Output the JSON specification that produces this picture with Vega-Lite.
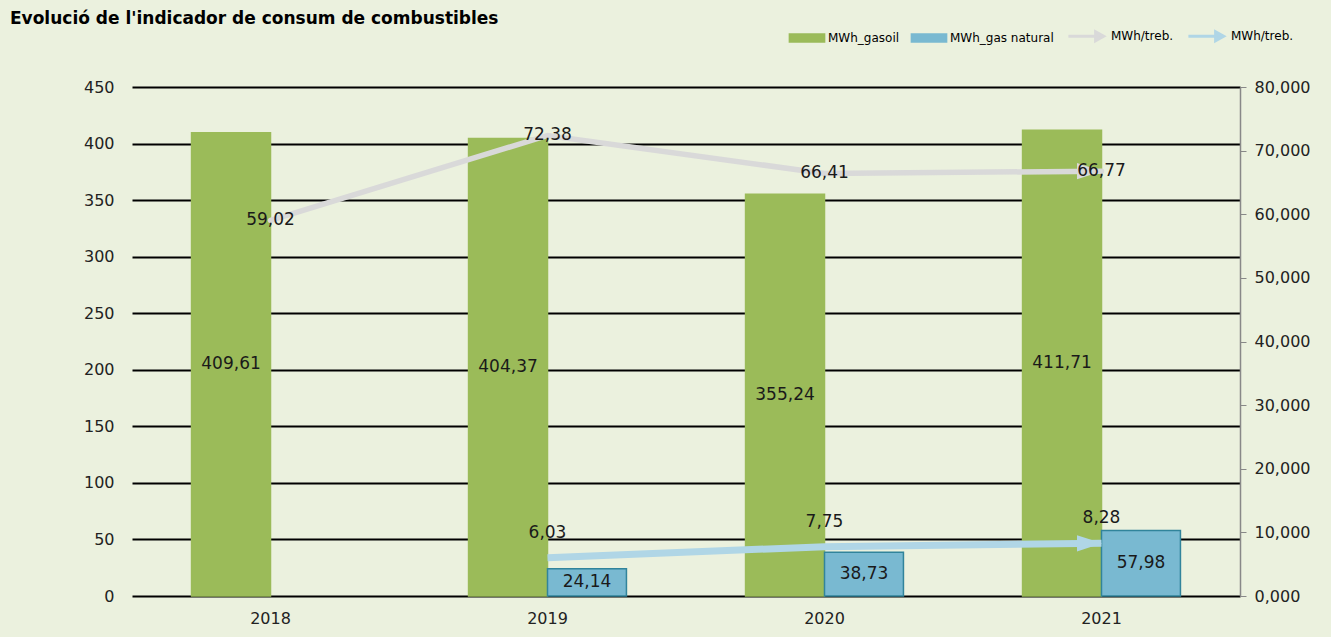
{
  "$schema": "https://vega.github.io/schema/vega-lite/v6.json",
  "width": 1108,
  "height": 509,
  "autosize": {"type": "none"},
  "padding": {"left": 132, "top": 87, "right": 91, "bottom": 41},
  "background": "#EBF1DE",
  "title": {
    "text": "Evolució de l'indicador de consum de combustibles",
    "anchor": "start",
    "frame": "group",
    "font": "DejaVu Sans",
    "fontSize": 17,
    "fontWeight": "bold",
    "color": "#000000",
    "dx": -122,
    "offset": 2
  },
  "config": {
    "view": {"stroke": null},
    "locale": {"number": {"decimal": ",", "thousands": ".", "grouping": [3], "currency": ["", " €"]}},
    "font": "DejaVu Sans"
  },
  "datasets": {
    "bars": [
      {"year": "2018", "series": "MWh_gasoil", "value": 409.61},
      {"year": "2019", "series": "MWh_gasoil", "value": 404.37},
      {"year": "2020", "series": "MWh_gasoil", "value": 355.24},
      {"year": "2021", "series": "MWh_gasoil", "value": 411.71},
      {"year": "2019", "series": "MWh_gas natural", "value": 24.14},
      {"year": "2020", "series": "MWh_gas natural", "value": 38.73},
      {"year": "2021", "series": "MWh_gas natural", "value": 57.98}
    ],
    "lines": [
      {"year": "2018", "series": "MWh/treb.", "value": 59.02},
      {"year": "2019", "series": "MWh/treb.", "value": 72.38},
      {"year": "2020", "series": "MWh/treb.", "value": 66.41},
      {"year": "2021", "series": "MWh/treb.", "value": 66.77},
      {"year": "2019", "series": "MWh/treb. ", "value": 6.03},
      {"year": "2020", "series": "MWh/treb. ", "value": 7.75},
      {"year": "2021", "series": "MWh/treb. ", "value": 8.28}
    ],
    "arrows": [
      {"year": "2021", "series": "MWh/treb.", "value": 66.77},
      {"year": "2021", "series": "MWh/treb. ", "value": 8.28}
    ]
  },
  "layer": [
    {
      "data": {"name": "bars"},
      "mark": {"type": "bar", "strokeWidth": 1.5},
      "encoding": {
        "x": {
          "field": "year",
          "type": "ordinal",
          "scale": {"paddingInner": 0.43, "paddingOuter": 0.215},
          "axis": {
            "title": null,
            "domain": false,
            "ticks": false,
            "labelAngle": 0,
            "labelFontSize": 16,
            "labelColor": "#222222",
            "labelPadding": 14,
            "labelFont": "DejaVu Sans"
          }
        },
        "xOffset": {"field": "series", "type": "nominal", "scale": {"domain": ["MWh_gasoil", "MWh_gas natural"], "paddingInner": 0}},
        "y": {
          "field": "value",
          "type": "quantitative",
          "scale": {"domain": [0, 450], "nice": false},
          "axis": {
            "title": null,
            "orient": "left",
            "values": [0, 50, 100, 150, 200, 250, 300, 350, 400, 450],
            "format": "d",
            "domain": false,
            "ticks": false,
            "grid": true,
            "gridColor": "#000000",
            "gridWidth": 2,
            "gridOpacity": 1,
            "labelFontSize": 16,
            "labelColor": "#222222",
            "labelPadding": 18,
            "labelFont": "DejaVu Sans"
          }
        },
        "color": {
          "field": "series",
          "type": "nominal",
          "scale": {
            "domain": ["MWh_gasoil", "MWh_gas natural", "MWh/treb.", "MWh/treb. "],
            "range": ["#9BBB59", "#79B9D1", "#D9D9D9", "#B0D6E6"]
          },
          "legend": {
            "orient": "none",
            "legendX": 669,
            "legendY": -57,
            "direction": "horizontal",
            "title": null,
            "labelFont": "DejaVu Sans",
            "labelFontSize": 12,
            "labelColor": "#000000",
            "columnPadding": 8,
            "symbolSize": 256,
            "labelOffset": 15,
            "encode": {
              "symbols": {
                "update": {
                  "shape": {"signal": "datum.index < 2 ? 'M-2.2,-0.5H2.2V0.5H-2.2Z' : 'M-2.7,0H0.9M0.7,-0.55L1.7,0L0.7,0.55Z'"},
                  "fill": {"signal": "datum.index == 0 ? '#9BBB59' : datum.index == 1 ? '#79B9D1' : datum.index == 2 ? '#D9D9D9' : '#B0D6E6'"},
                  "stroke": {"signal": "datum.index == 0 ? '#9BBB59' : datum.index == 1 ? '#1F5F7A' : datum.index == 2 ? '#D9D9D9' : '#B0D6E6'"},
                  "strokeWidth": {"signal": "datum.index < 2 ? 1.5 : 3"},
                  "opacity": {"value": 1}
                }
              }
            }
          }
        },
        "stroke": {
          "field": "series",
          "type": "nominal",
          "scale": {"domain": ["MWh_gasoil", "MWh_gas natural"], "range": ["#9BBB59", "#31849B"]},
          "legend": null
        }
      }
    },
    {
      "data": {"name": "bars"},
      "mark": {"type": "text", "fontSize": 17, "color": "#1a1a1a", "font": "DejaVu Sans"},
      "encoding": {
        "x": {"field": "year", "type": "ordinal"},
        "xOffset": {"field": "series", "type": "nominal", "scale": {"domain": ["MWh_gasoil", "MWh_gas natural"], "paddingInner": 0}},
        "y": {"field": "value", "type": "quantitative", "scale": {"domain": [0, 900], "nice": false}, "axis": null},
        "text": {"field": "value", "type": "quantitative", "format": ".2f"}
      }
    },
    {
      "data": {"name": "lines"},
      "encoding": {
        "x": {"field": "year", "type": "ordinal"},
        "y": {
          "field": "value",
          "type": "quantitative",
          "scale": {"domain": [0, 80], "nice": false},
          "axis": {
            "title": null,
            "orient": "right",
            "values": [0, 10, 20, 30, 40, 50, 60, 70, 80],
            "format": ".3f",
            "grid": false,
            "domain": true,
            "domainColor": "#888888",
            "domainWidth": 1.5,
            "ticks": true,
            "tickColor": "#888888",
            "tickSize": 6,
            "labelFontSize": 16,
            "labelColor": "#222222",
            "labelPadding": 8,
            "labelFont": "DejaVu Sans"
          }
        }
      },
      "layer": [
        {
          "mark": {"type": "line", "strokeWidth": 5.5, "strokeCap": "round"},
          "transform": [{"filter": "datum.series === 'MWh/treb.'"}],
          "encoding": {"color": {"field": "series", "type": "nominal"}}
        },
        {
          "mark": {"type": "line", "strokeWidth": 7, "strokeCap": "butt"},
          "transform": [{"filter": "datum.series === 'MWh/treb. '"}],
          "encoding": {"color": {"field": "series", "type": "nominal"}}
        },
        {
          "data": {"name": "arrows"},
          "mark": {"type": "point", "shape": "M-1,-0.65L1,0L-1,0.65Z", "filled": true, "opacity": 1, "size": 625, "xOffset": -12},
          "encoding": {"color": {"field": "series", "type": "nominal"}}
        },
        {
          "mark": {"type": "text", "fontSize": 17, "color": "#1a1a1a", "font": "DejaVu Sans"},
          "transform": [{"filter": "datum.series === 'MWh/treb.'"}],
          "encoding": {"text": {"field": "value", "type": "quantitative", "format": ".2f"}}
        },
        {
          "mark": {"type": "text", "fontSize": 17, "color": "#1a1a1a", "font": "DejaVu Sans", "dy": -25},
          "transform": [{"filter": "datum.series === 'MWh/treb. '"}],
          "encoding": {"text": {"field": "value", "type": "quantitative", "format": ".2f"}}
        }
      ]
    }
  ],
  "resolve": {"scale": {"y": "independent"}}
}
